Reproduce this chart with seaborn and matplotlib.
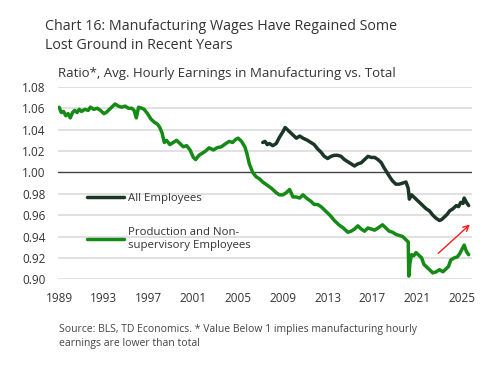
import matplotlib
matplotlib.use('Agg')
import matplotlib.pyplot as plt
import seaborn as sns
import pandas as pd

sns.set_theme(style='white')
plt.rcParams['font.family'] = ['Open Sans', 'DejaVu Sans']

# Production and non-supervisory employees (ratio)
prod_years = [1989.0, 1989.2, 1989.4, 1989.6, 1989.8, 1990.0, 1990.2, 1990.4, 1990.6, 1990.8,
              1991.0, 1991.3, 1991.6, 1991.8, 1992.1, 1992.4, 1992.7, 1993.0, 1993.2, 1993.5,
              1993.8, 1994.0, 1994.3, 1994.6, 1994.9, 1995.2, 1995.5, 1995.7, 1995.9, 1996.1,
              1996.4, 1996.6, 1996.9, 1997.2, 1997.5, 1997.8, 1998.0, 1998.2, 1998.4, 1998.6,
              1998.9, 1999.2, 1999.5, 1999.8, 2000.1, 2000.4, 2000.7, 2001.0, 2001.2, 2001.5,
              2001.8, 2002.1, 2002.4, 2002.8, 2003.1, 2003.5, 2003.9, 2004.2, 2004.5, 2004.8,
              2005.0, 2005.3, 2005.6, 2005.8, 2006.0, 2006.3, 2006.6, 2006.9, 2007.2, 2007.6,
              2008.0, 2008.4, 2008.7, 2009.0, 2009.3, 2009.6, 2009.9, 2010.2, 2010.5, 2010.8,
              2011.1, 2011.5, 2011.8, 2012.1, 2012.4, 2012.8, 2013.2, 2013.6, 2014.0, 2014.4,
              2014.8, 2015.1, 2015.4, 2015.7, 2016.0, 2016.3, 2016.6, 2016.9, 2017.2, 2017.5,
              2017.9, 2018.2, 2018.5, 2018.8, 2019.1, 2019.4, 2019.7, 2020.0, 2020.2, 2020.25,
              2020.35, 2020.5, 2020.7, 2020.9, 2021.1, 2021.4, 2021.6, 2021.9, 2022.1, 2022.4,
              2022.7, 2023.0, 2023.3, 2023.6, 2023.8, 2024.0, 2024.3, 2024.6, 2024.8, 2025.0,
              2025.2, 2025.4, 2025.6]
prod_ratio = [1.061, 1.056, 1.057, 1.053, 1.055, 1.051, 1.056, 1.058, 1.056, 1.059,
              1.057, 1.059, 1.058, 1.061, 1.059, 1.060, 1.058, 1.055, 1.056, 1.059,
              1.062, 1.064, 1.062, 1.061, 1.062, 1.060, 1.060, 1.058, 1.051, 1.061,
              1.060, 1.059, 1.055, 1.050, 1.047, 1.045, 1.042, 1.037, 1.028, 1.030,
              1.026, 1.028, 1.030, 1.027, 1.024, 1.025, 1.021, 1.014, 1.012, 1.016,
              1.018, 1.020, 1.023, 1.021, 1.023, 1.024, 1.027, 1.029, 1.028, 1.031,
              1.032, 1.029, 1.024, 1.017, 1.008, 1.000, 0.996, 0.994, 0.991, 0.988,
              0.985, 0.981, 0.979, 0.979, 0.981, 0.984, 0.977, 0.977, 0.976, 0.979,
              0.976, 0.973, 0.970, 0.970, 0.968, 0.964, 0.960, 0.955, 0.951, 0.948,
              0.944, 0.945, 0.947, 0.950, 0.947, 0.945, 0.948, 0.947, 0.946, 0.948,
              0.951, 0.948, 0.945, 0.944, 0.942, 0.941, 0.940, 0.937, 0.935, 0.903,
              0.915, 0.923, 0.922, 0.925, 0.923, 0.920, 0.914, 0.911, 0.909, 0.906,
              0.907, 0.909, 0.907, 0.910, 0.912, 0.918, 0.920, 0.921, 0.924, 0.928,
              0.932, 0.926, 0.923]

# All employees (ratio)
all_years = [2007.2, 2007.4, 2007.6, 2007.8, 2008.1, 2008.4, 2008.7, 2009.0, 2009.2, 2009.4,
             2009.7, 2010.0, 2010.2, 2010.5, 2010.8, 2011.2, 2011.5, 2011.8, 2012.1, 2012.4,
             2012.7, 2013.0, 2013.3, 2013.6, 2013.9, 2014.2, 2014.5, 2014.8, 2015.1, 2015.4,
             2015.7, 2016.0, 2016.3, 2016.6, 2016.9, 2017.2, 2017.5, 2017.8, 2018.0, 2018.3,
             2018.6, 2018.8, 2019.1, 2019.4, 2019.7, 2020.0, 2020.2, 2020.3, 2020.5, 2020.7,
             2020.9, 2021.2, 2021.5, 2021.8, 2022.1, 2022.4, 2022.7, 2023.0, 2023.2, 2023.4,
             2023.7, 2023.9, 2024.2, 2024.5, 2024.7, 2024.9, 2025.1, 2025.2, 2025.4, 2025.6]
all_ratio = [1.028, 1.029, 1.026, 1.027, 1.025, 1.027, 1.033, 1.038, 1.042, 1.040,
             1.037, 1.034, 1.032, 1.034, 1.032, 1.030, 1.028, 1.026, 1.022, 1.019,
             1.015, 1.013, 1.015, 1.016, 1.016, 1.015, 1.012, 1.010, 1.008, 1.006,
             1.008, 1.009, 1.012, 1.015, 1.014, 1.014, 1.012, 1.009, 1.005, 1.000,
             0.995, 0.992, 0.989, 0.989, 0.990, 0.991, 0.985, 0.975, 0.979, 0.977,
             0.975, 0.972, 0.969, 0.966, 0.964, 0.960, 0.957, 0.955, 0.956, 0.958,
             0.961, 0.964, 0.966, 0.969, 0.968, 0.972, 0.971, 0.976, 0.972, 0.969]

y_ticks = [0.90, 0.92, 0.94, 0.96, 0.98, 1.00, 1.02, 1.04, 1.06, 1.08]
x_ticks = [1989, 1993, 1997, 2001, 2005, 2009, 2013, 2017, 2021, 2025]

# red trend arrow (data coords)
arrow_start = (2022.7, 0.9225)
arrow_end = (2025.9, 0.953)

df_all = pd.DataFrame({'year': all_years, 'ratio': all_ratio})
df_prod = pd.DataFrame({'year': prod_years, 'ratio': prod_ratio})

fig = plt.figure(figsize=(4.84, 3.66), dpi=100)
ax = fig.add_axes([0.1198, 0.2369, 0.8554, 0.5257])

for y in y_ticks:
    if y == 1.00:
        ax.axhline(y, color='#444444', lw=1.0, zorder=1)
    else:
        ax.axhline(y, color='#dedede', lw=1.3, zorder=0)

sns.lineplot(data=df_all, x='year', y='ratio', ax=ax, color='#1c3625', lw=2.5,
             label='All Employees', zorder=3)
sns.lineplot(data=df_prod, x='year', y='ratio', ax=ax, color='#168a16', lw=2.5,
             label='Production and Non-\nsupervisory Employees', zorder=3)

ax.annotate('', xy=arrow_end, xytext=arrow_start,
            arrowprops=dict(arrowstyle='->', color='#ff1a1a', lw=1.0,
                            mutation_scale=10), zorder=4)

ax.set_xlim(1988.9, 2025.9)
ax.set_ylim(0.90, 1.08)
ax.set_xticks(x_ticks)
ax.set_yticks(y_ticks)
ax.set_yticklabels([f'{v:.2f}' for v in y_ticks])
ax.tick_params(axis='both', length=0, labelsize=8.5, colors='#333333', pad=9)
ax.set_xlabel('')
ax.set_ylabel('')
for s in ax.spines.values():
    s.set_visible(False)

leg = ax.legend(loc='upper left', bbox_to_anchor=(0.045, 0.50), frameon=False,
                fontsize=8.2, handlelength=3.3, handletextpad=0.3, labelspacing=2.0,
                labelcolor='#333333')

fig.text(0.093, 0.902, 'Chart 16: Manufacturing Wages Have Regained Some\nLost Ground in Recent Years',
         fontsize=10.3, color='#333333', va='center', ha='left', linespacing=1.35)
fig.text(0.12, 0.8, 'Ratio*, Avg. Hourly Earnings in Manufacturing vs. Total',
         fontsize=9.5, color='#333333', va='center', ha='left')
fig.text(0.121, 0.08, 'Source: BLS, TD Economics. * Value Below 1 implies manufacturing hourly\n'
         'earnings are lower than total',
         fontsize=7.5, color='#444444', va='center', ha='left', linespacing=1.4)

fig.savefig('out.png', dpi=100)
